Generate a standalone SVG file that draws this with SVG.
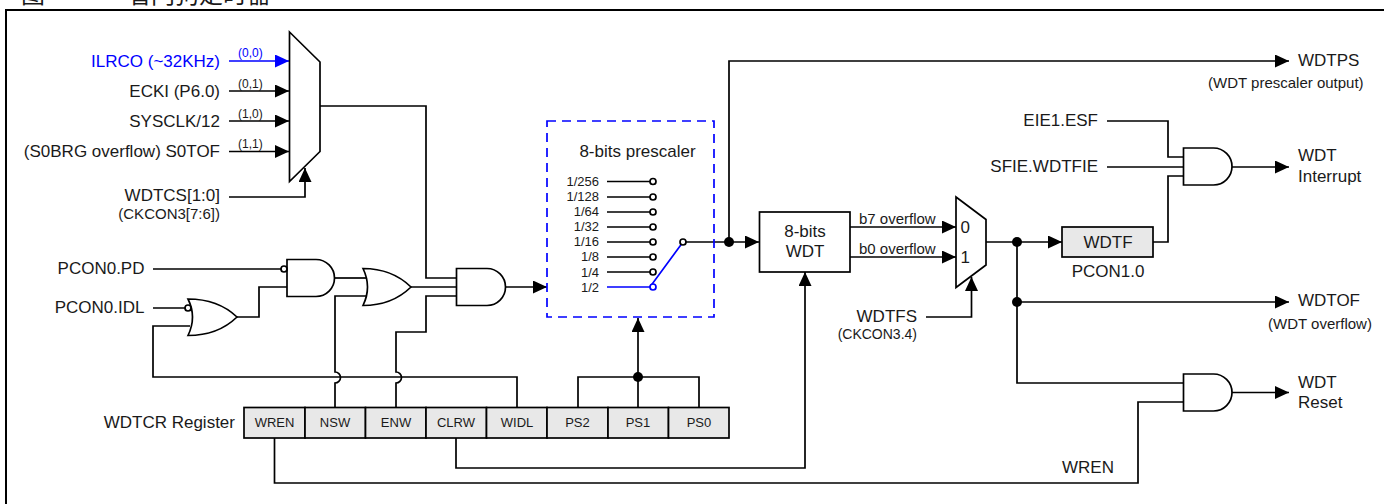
<svg xmlns="http://www.w3.org/2000/svg" width="1384" height="504" viewBox="0 0 1384 504">
<style>
text{font-family:"Liberation Sans",Arial,sans-serif;fill:#1a1a1a}
.s{font-size:17px}
.m{font-size:15px}
.t{font-size:13px}
.f{font-size:13px}
.p{font-size:15px}
.x{font-size:12px}
.e{text-anchor:end}
.c{text-anchor:middle}
.h{font-family:"Noto Sans CJK TC","Noto Sans CJK SC",sans-serif;font-size:24px}
.w{fill:none;stroke:#000;stroke-width:1.7}
.b{fill:none;stroke:#0000ff;stroke-width:1.7}
.g{fill:#fff;stroke:#000;stroke-width:1.7}
.r{fill:#e8e8e8;stroke:#000;stroke-width:1.7}
.d{fill:#000}
</style>
<defs>
<marker id="a" markerUnits="userSpaceOnUse" markerWidth="15" markerHeight="14" refX="14" refY="6.500" orient="auto"><path d="M0 0L14 6.500L0 13Z" fill="#000"/></marker>
<marker id="ab" markerUnits="userSpaceOnUse" markerWidth="15" markerHeight="14" refX="14" refY="6.500" orient="auto"><path d="M0 0L14 6.500L0 13Z" fill="#0000ff"/></marker>
</defs>
<path d="M6 504V10H1384" fill="none" stroke="#000" stroke-width="2"/>
<text class="h" x="21" y="3">图</text>
<text class="h" x="127" y="3">看门狗定时器</text>

<g id="connectors">
<path class="b" d="M229 61H289" marker-end="url(#ab)"/>
<path class="w" d="M229 91H289" marker-end="url(#a)"/>
<path class="w" d="M229 121H289" marker-end="url(#a)"/>
<path class="w" d="M229 151.500H289" marker-end="url(#a)"/>
<path class="w" d="M229 197H305V168" marker-end="url(#a)"/>
<path class="w" d="M320 106H426V278H456"/>
<path class="w" d="M153 269H284"/>
<path class="w" d="M153 308H186"/>
<path class="w" d="M237 317H259V287H287"/>
<path class="w" d="M334 278H366"/>
<path class="w" d="M410 287H456"/>
<path class="w" d="M335 407.500V383A5.500 5.500 0 0 0 335 372V296H367"/>
<path class="w" d="M396 407.500V383A5.500 5.500 0 0 0 396 372V332H426V296H456"/>
<path class="w" d="M190 326H153V377H517V407.500"/>
<path class="w" d="M505 287H547" marker-end="url(#a)"/>
<path class="w" d="M578 407.500V377H699V407.500"/>
<path class="w" d="M638 407.500V318" marker-end="url(#a)"/>
<path class="w" d="M686 242H759" marker-end="url(#a)"/>
<path class="w" d="M729 242V61H1289" marker-end="url(#a)"/>
<path class="w" d="M850 227H956" marker-end="url(#a)"/>
<path class="w" d="M850 257H956" marker-end="url(#a)"/>
<path class="w" d="M926 317H971.500V277" marker-end="url(#a)"/>
<path class="w" d="M986 242H1062" marker-end="url(#a)"/>
<path class="w" d="M1017 242V383H1184"/>
<path class="w" d="M1017 302H1289" marker-end="url(#a)"/>
<path class="w" d="M1107 121H1168V157H1184"/>
<path class="w" d="M1107 167H1184"/>
<path class="w" d="M1153 242H1168V176H1184"/>
<path class="w" d="M1232 167H1289" marker-end="url(#a)"/>
<path class="w" d="M1232 392.500H1289" marker-end="url(#a)"/>
<path class="w" d="M274.500 437.500V483H1138V402H1184"/>
<path class="w" d="M456 437.500V468H805V272" marker-end="url(#a)"/>
<circle class="d" cx="729" cy="242" r="5"/>
<circle class="d" cx="638" cy="377" r="5"/>
<circle class="d" cx="1017" cy="242" r="5"/>
<circle class="d" cx="1017" cy="302" r="5"/>
</g>

<g id="clock-mux">
<path class="g" d="M289.500 32L320 62V151.500L289.500 181.500Z"/>
</g>
<g id="clock-labels">
<text class="s e" x="220" y="66.500" style="fill:#0000ff">ILRCO (~32KHz)</text>
<text class="s e" x="220" y="96.500">ECKI (P6.0)</text>
<text class="s e" x="220" y="126.500">SYSCLK/12</text>
<text class="s e" x="220" y="157">(S0BRG overflow) S0TOF</text>
<text class="s e" x="220" y="201">WDTCS[1:0]</text>
<text class="p e" x="220" y="219">(CKCON3[7:6])</text>
<text class="x" x="238" y="57" style="fill:#0000ff">(0,0)</text>
<text class="x" x="238" y="88">(0,1)</text>
<text class="x" x="238" y="118">(1,0)</text>
<text class="x" x="238" y="148">(1,1)</text>
</g>
<text class="s e" x="144.500" y="274">PCON0.PD</text>
<text class="s e" x="144.500" y="313">PCON0.IDL</text>

<g id="and-pd">
<path class="g" d="M287 259.500H316A18.500 18.500 0 0 1 316 296.500H287Z"/>
<circle class="g" cx="284" cy="269" r="3"/>
</g>
<g id="or-idl">
<path class="g" d="M188 299Q218 299 237 317Q218 335.500 188 335.500Q197 317 188 299Z"/>
<circle class="g" cx="188" cy="308" r="3"/>
</g>
<g id="or-main">
<path class="g" d="M363 268.500Q392 268.500 411 287Q392 305.500 363 305.500Q372 287 363 268.500Z"/>
</g>
<g id="and-main">
<path class="g" d="M456.500 268.500H487A18.500 18.500 0 0 1 487 305.500H456.500Z"/>
</g>

<g id="prescaler">
<rect x="547" y="121" width="167" height="196" fill="none" stroke="#0000ff" stroke-width="1.700" stroke-dasharray="9 6"/>
<text class="s c" x="637.500" y="157">8-bits prescaler</text>
<text class="f e" x="599" y="186">1/256</text>
<text class="f e" x="599" y="201">1/128</text>
<text class="f e" x="599" y="216">1/64</text>
<text class="f e" x="599" y="231">1/32</text>
<text class="f e" x="599" y="246">1/16</text>
<text class="f e" x="599" y="261">1/8</text>
<text class="f e" x="599" y="277">1/4</text>
<text class="f e" x="599" y="292">1/2</text>
<path class="w" d="M607 181.500H650M607 197H650M607 212H650M607 227H650M607 242H650M607 257H650M607 272H650"/>
<path class="b" d="M607 287H650L683 242"/>
<circle class="g" cx="653" cy="181.500" r="3"/><circle class="g" cx="653" cy="197" r="3"/>
<circle class="g" cx="653" cy="212" r="3"/><circle class="g" cx="653" cy="227" r="3"/>
<circle class="g" cx="653" cy="242" r="3"/><circle class="g" cx="653" cy="257" r="3"/>
<circle class="g" cx="653" cy="272" r="3"/>
<circle cx="653" cy="287" r="3" fill="#fff" stroke="#0000ff" stroke-width="1.700"/>
<circle class="g" cx="683" cy="242" r="3"/>
</g>

<g id="wdt8">
<rect class="g" x="759.500" y="212" width="90.500" height="60"/>
<text class="s c" x="805" y="237">8-bits</text>
<text class="s c" x="805" y="257">WDT</text>
</g>
<text class="m" x="859" y="224">b7 overflow</text>
<text class="m" x="859" y="254">b0 overflow</text>
<g id="wdt-mux">
<path class="g" d="M956 197L986 219.500V265L956 287.500Z"/>
<text class="s" x="960.500" y="233">0</text>
<text class="s" x="960.500" y="263">1</text>
</g>
<text class="s e" x="917" y="322">WDTFS</text>
<text class="p e" x="917" y="339" style="font-size:14px">(CKCON3.4)</text>

<g id="wdtf">
<rect class="r" x="1062" y="227" width="91" height="30"/>
<text class="s c" x="1108" y="248">WDTF</text>
<text class="s c" x="1108" y="277">PCON1.0</text>
</g>
<text class="s e" x="1098" y="126">EIE1.ESF</text>
<text class="s e" x="1098" y="172">SFIE.WDTFIE</text>
<g id="and-int">
<path class="g" d="M1183.500 148H1213.500A18.500 18.500 0 0 1 1213.500 185H1183.500Z"/>
</g>
<g id="and-rst">
<path class="g" d="M1183.500 374H1213.500A18.500 18.500 0 0 1 1213.500 411H1183.500Z"/>
</g>
<text class="s" x="1298" y="66">WDTPS</text>
<text class="p" x="1208" y="88">(WDT prescaler output)</text>
<text class="s" x="1298" y="161">WDT</text>
<text class="s" x="1298" y="182">Interrupt</text>
<text class="s" x="1298" y="306">WDTOF</text>
<text class="p" x="1268" y="329">(WDT overflow)</text>
<text class="s" x="1298" y="388">WDT</text>
<text class="s" x="1298" y="408">Reset</text>
<text class="s" x="1062" y="473">WREN</text>

<g id="wdtcr">
<text class="s e" x="235" y="428">WDTCR Register</text>
<rect class="r" x="244" y="407.500" width="61" height="30.500"/><text class="t c" x="274.500" y="427">WREN</text>
<rect class="r" x="305" y="407.500" width="60.500" height="30.500"/><text class="t c" x="335" y="427">NSW</text>
<rect class="r" x="365.500" y="407.500" width="60.500" height="30.500"/><text class="t c" x="396" y="427">ENW</text>
<rect class="r" x="426" y="407.500" width="60.500" height="30.500"/><text class="t c" x="456" y="427">CLRW</text>
<rect class="r" x="486.500" y="407.500" width="60.500" height="30.500"/><text class="t c" x="517" y="427">WIDL</text>
<rect class="r" x="547" y="407.500" width="61" height="30.500"/><text class="t c" x="577.500" y="427">PS2</text>
<rect class="r" x="608" y="407.500" width="60.500" height="30.500"/><text class="t c" x="638" y="427">PS1</text>
<rect class="r" x="668.500" y="407.500" width="60.500" height="30.500"/><text class="t c" x="699" y="427">PS0</text>
</g>
</svg>
